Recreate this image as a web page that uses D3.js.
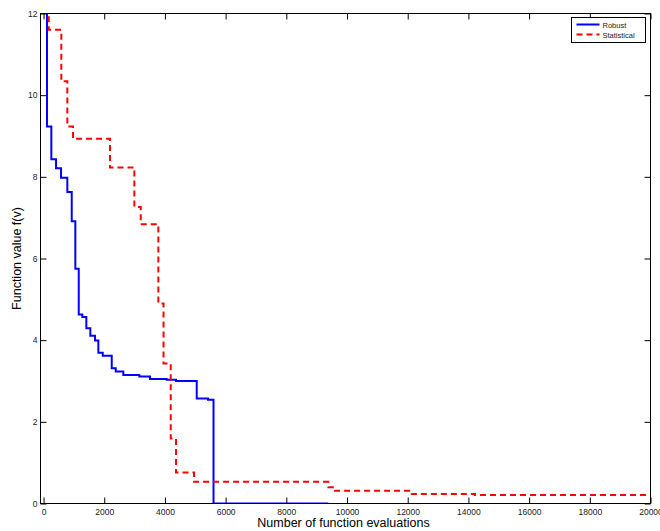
<!DOCTYPE html>
<html>
<head>
<meta charset="utf-8">
<script src="https://cdn.jsdelivr.net/npm/d3@7"></script>
<style>
  body { margin: 0; background: #fff; }
  text { font-family: "Liberation Sans", Arial, Helvetica, sans-serif; }
</style>
</head>
<body>
<svg id="chart" width="660" height="531"></svg>
<script>
// step points: value holds from x until the next x
var robustEvals = [110, 115, 257, 412, 577, 784, 929, 1048, 1160, 1278, 1410, 1542, 1697, 1806, 1951, 2247, 2379, 2629, 3157, 3509, 4059, 4366, 5048, 5420, 5601, 9384];
var robustValues = [14, 9.23, 8.43, 8.21, 7.98, 7.63, 6.91, 5.75, 4.63, 4.57, 4.29, 4.11, 3.99, 3.69, 3.62, 3.31, 3.23, 3.15, 3.11, 3.05, 3.03, 3.00, 2.57, 2.54, 0, 0];

var statEvals = [140, 171, 586, 784, 972, 2191, 2992, 3203, 3783, 3954, 4191, 4366, 4959, 9384, 9605, 12132, 14218, 20000];
var statValues = [12.4, 11.6, 10.34, 9.23, 8.93, 8.23, 7.26, 6.84, 4.90, 3.43, 1.59, 0.76, 0.53, 0.40, 0.31, 0.23, 0.21, 0.21];

var xTicks = [0, 2000, 4000, 6000, 8000, 10000, 12000, 14000, 16000, 18000, 20000];
var yTicks = [0, 2, 4, 6, 8, 10, 12];
var seriesNames = ["Robust", "Statistical"];

var plotLeft = 40.5, plotRight = 650.5, plotTop = 13.5, plotBottom = 503.5;

var svg = d3.select("#chart");

var x = d3.scaleLinear().domain([-100, 20000]).range([plotLeft, plotRight]);
var y = d3.scaleLinear().domain([0, 12]).range([plotBottom, plotTop]);

svg.append("clipPath").attr("id", "plotClip")
    .append("rect")
    .attr("x", plotLeft).attr("y", plotTop)
    .attr("width", plotRight - plotLeft).attr("height", plotBottom - plotTop);

function styleAxis(g) {
    g.select(".domain").remove();
    g.selectAll("line").attr("stroke", "#000").attr("stroke-width", 1);
    g.selectAll("text")
        .attr("fill", "#222")
        .style("font-size", "8.5px");
}

// inner ticks on all four sides, labels only bottom and left
svg.append("g")
    .attr("transform", `translate(0,${plotBottom})`)
    .call(d3.axisBottom(x).tickValues(xTicks).tickSize(-6).tickPadding(5).tickFormat(d3.format("d")))
    .call(styleAxis);

svg.append("g")
    .attr("transform", `translate(0,${plotTop})`)
    .call(d3.axisTop(x).tickValues(xTicks).tickSize(-6).tickFormat(""))
    .call(styleAxis);

svg.append("g")
    .attr("transform", `translate(${plotLeft},0)`)
    .call(d3.axisLeft(y).tickValues(yTicks).tickSize(-6).tickPadding(3).tickFormat(d3.format("d")))
    .call(styleAxis);

svg.append("g")
    .attr("transform", `translate(${plotRight},0)`)
    .call(d3.axisRight(y).tickValues(yTicks).tickSize(-6).tickFormat(""))
    .call(styleAxis);

var line = d3.line()
    .x(function (d) { return x(d[0]); })
    .y(function (d) { return y(d[1]); })
    .curve(d3.curveStepAfter);

var robust = d3.zip(robustEvals, robustValues);
var statistical = d3.zip(statEvals, statValues);

var plot = svg.append("g").attr("clip-path", "url(#plotClip)");

plot.append("path")
    .datum(robust)
    .attr("d", line)
    .attr("fill", "none")
    .attr("stroke", "#0000ff")
    .attr("stroke-width", 2);

plot.append("path")
    .datum(statistical)
    .attr("d", line)
    .attr("fill", "none")
    .attr("stroke", "#ff0000")
    .attr("stroke-width", 2)
    .attr("stroke-dasharray", "6,4");

// frame
svg.append("rect")
    .attr("x", plotLeft).attr("y", plotTop)
    .attr("width", plotRight - plotLeft).attr("height", plotBottom - plotTop)
    .attr("fill", "none")
    .attr("stroke", "#000")
    .attr("stroke-width", 1);

// axis titles
svg.append("text")
    .attr("x", (plotLeft + plotRight) / 2 - 2)
    .attr("y", 527)
    .attr("text-anchor", "middle")
    .style("font-size", "12.5px")
    .text("Number of function evaluations");

svg.append("text")
    .attr("transform", `translate(21,${(plotTop + plotBottom) / 2}) rotate(-90)`)
    .attr("text-anchor", "middle")
    .style("font-size", "12.5px")
    .text("Function value f(v)");

// legend
var legend = svg.append("g").attr("transform", "translate(571.5,17.5)");
legend.append("rect")
    .attr("width", 74).attr("height", 25)
    .attr("fill", "#fff")
    .attr("stroke", "#000")
    .attr("stroke-width", 1);

var legendColors = ["#0000ff", "#ff0000"];
var legendDash = [null, "6,4"];
seriesNames.forEach(function (name, i) {
    var ly = 7 + i * 10;
    legend.append("line")
        .attr("x1", 5).attr("x2", 28)
        .attr("y1", ly).attr("y2", ly)
        .attr("stroke", legendColors[i])
        .attr("stroke-width", 2)
        .attr("stroke-dasharray", legendDash[i]);
    legend.append("text")
        .attr("x", 31).attr("y", ly + 3)
        .style("font-size", "7.5px")
        .attr("fill", "#222")
        .text(name);
});
</script>
</body>
</html>
